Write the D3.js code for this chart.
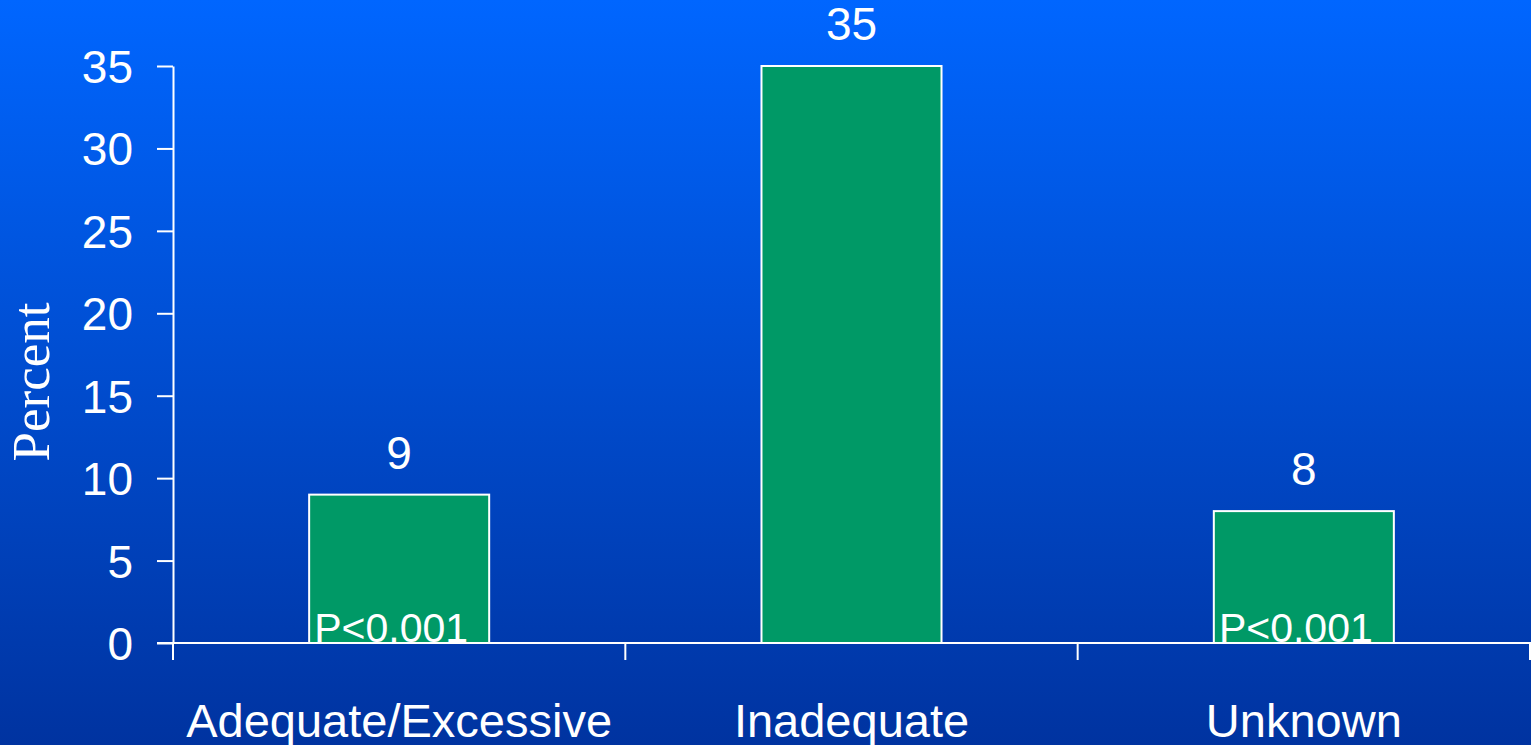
<!DOCTYPE html>
<html>
<head>
<meta charset="utf-8">
<script src="https://cdn.jsdelivr.net/npm/d3@7"></script>
<style>
  html, body { margin: 0; padding: 0; overflow: hidden; }
  svg { display: block; }
</style>
</head>
<body>
<div class="chart"></div>
<script>
// Data
const categories = ["Adequate/Excessive", "Inadequate", "Unknown"];
const values = [9, 35, 8];
const notes = ["P<0.001", "", "P<0.001"];
const yTicks = [0, 5, 10, 15, 20, 25, 30, 35];

const W = 1531, H = 745;
const plot = { left: 173, right: 1530, top: 66, bottom: 643 };

const svg = d3.select(".chart").append("svg")
    .attr("width", W)
    .attr("height", H);

// background gradient
const grad = svg.append("defs").append("linearGradient")
    .attr("id", "bg")
    .attr("x1", 0).attr("y1", 0).attr("x2", 0).attr("y2", 1);
grad.append("stop").attr("offset", "0%").attr("stop-color", "#0066ff");
grad.append("stop").attr("offset", "100%").attr("stop-color", "#0033a0");

svg.append("rect")
    .attr("width", W)
    .attr("height", H)
    .attr("fill", "url(#bg)");

// scales
const x = d3.scaleBand()
    .domain(categories)
    .range([plot.left, plot.right])
    .paddingInner(0.602)
    .paddingOuter(0.301);

const y = d3.scaleLinear()
    .domain([0, 35])
    .range([plot.bottom, plot.top]);

// bars
svg.selectAll("rect.bar")
    .data(values)
    .enter()
    .append("rect")
    .attr("class", "bar")
    .attr("x", (d, i) => x(categories[i]))
    .attr("y", d => y(d))
    .attr("width", x.bandwidth())
    .attr("height", d => y(0) - y(d))
    .attr("fill", "#009966")
    .attr("stroke", "#ffffff")
    .attr("stroke-width", 2);

// value labels above bars
svg.selectAll("text.val")
    .data(values)
    .enter()
    .append("text")
    .attr("class", "val")
    .attr("x", (d, i) => x(categories[i]) + x.bandwidth() / 2)
    .attr("y", d => y(d) - 26)
    .attr("text-anchor", "middle")
    .attr("fill", "#ffffff")
    .style("font-family", "'Liberation Sans', Arial, sans-serif")
    .style("font-size", "46px")
    .text(d => d);

// p-value notes inside bars (sit a bit left of centre)
svg.selectAll("text.note")
    .data(notes)
    .enter()
    .append("text")
    .attr("class", "note")
    .attr("x", (d, i) => x(categories[i]) + x.bandwidth() / 2 - 8)
    .attr("y", y(0) - 1)
    .attr("text-anchor", "middle")
    .attr("fill", "#ffffff")
    .style("font-family", "'Liberation Sans', Arial, sans-serif")
    .style("font-size", "41px")
    .text(d => d);

// y axis
const yAxis = svg.append("g")
    .attr("transform", `translate(${plot.left},0)`)
    .call(d3.axisLeft(y).tickValues(yTicks).tickSize(16).tickSizeOuter(0).tickPadding(24));
yAxis.select(".domain").attr("stroke", "#ffffff").attr("stroke-width", 2);
yAxis.selectAll(".tick line").attr("stroke", "#ffffff").attr("stroke-width", 2);
yAxis.selectAll(".tick text")
    .attr("fill", "#ffffff")
    .attr("dy", "0.36em")
    .style("font-family", "'Liberation Sans', Arial, sans-serif")
    .style("font-size", "46px");

// x axis line
svg.append("line")
    .attr("x1", plot.left - 16)
    .attr("x2", W)
    .attr("y1", y(0))
    .attr("y2", y(0))
    .attr("stroke", "#ffffff")
    .attr("stroke-width", 2);

// x axis ticks between categories
const bounds = d3.range(categories.length + 1).map(i => plot.left + i * x.step());
svg.selectAll("line.xtick")
    .data(bounds)
    .enter()
    .append("line")
    .attr("class", "xtick")
    .attr("x1", d => d)
    .attr("x2", d => d)
    .attr("y1", y(0))
    .attr("y2", y(0) + 17)
    .attr("stroke", "#ffffff")
    .attr("stroke-width", 2);

// category labels
svg.selectAll("text.cat")
    .data(categories)
    .enter()
    .append("text")
    .attr("class", "cat")
    .attr("x", d => x(d) + x.bandwidth() / 2)
    .attr("y", 737)
    .attr("text-anchor", "middle")
    .attr("fill", "#ffffff")
    .style("font-family", "'Liberation Sans', Arial, sans-serif")
    .style("font-size", "47px")
    .text(d => d);

// y axis title
svg.append("text")
    .attr("transform", "translate(49,382) rotate(-90)")
    .attr("text-anchor", "middle")
    .attr("fill", "#ffffff")
    .style("font-family", "'Liberation Serif', 'Times New Roman', serif")
    .style("font-size", "53px")
    .text("Percent");
</script>
</body>
</html>
